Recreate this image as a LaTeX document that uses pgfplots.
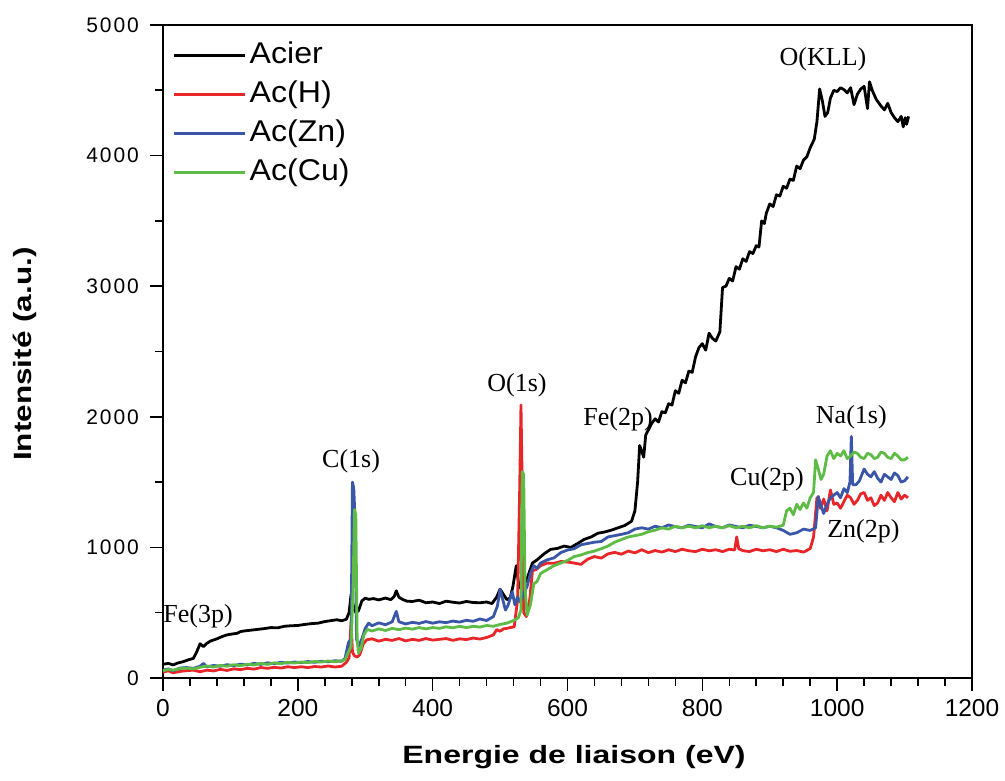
\documentclass[border=0pt]{standalone}
\usepackage{fontspec}
\setmainfont{Liberation Sans}
\newfontfamily\timesf{Liberation Serif}
\usepackage{pgfplots}
\usepackage{pgfplotstable}
\pgfplotsset{compat=1.18}
\definecolor{cred}{HTML}{E8262A}
\definecolor{cblue}{HTML}{3A56A8}
\definecolor{cgreen}{HTML}{5DBB46}

\pgfplotstableread{
x y
0 105
8 112
15 100
22 115
30 125
38 140
45 150
50 200
55 262
60 240
65 265
70 282
80 300
88 318
95 330
100 335
110 342
115 355
120 360
130 366
140 372
150 378
160 386
170 384
180 396
190 400
200 402
210 410
220 416
230 420
240 432
250 440
258 446
265 438
272 450
276 500
279 640
282 560
286 500
290 515
295 590
300 612
305 602
312 608
320 598
330 612
338 600
343 625
346 668
350 618
356 600
362 588
370 586
380 596
390 576
400 582
410 570
420 588
430 580
440 574
450 586
460 578
470 576
480 582
488 570
495 620
500 680
505 640
510 600
515 612
519 700
524 860
528 700
532 680
540 760
548 880
555 905
565 950
575 985
585 992
595 1010
605 1000
615 1030
625 1062
635 1080
645 1108
655 1118
665 1132
675 1150
685 1168
695 1200
700 1280
704 1500
707 1780
710 1740
713 1690
716 1860
720 1900
725 1950
730 1985
735 1960
740 2040
745 2030
750 2100
755 2090
760 2200
765 2180
770 2280
775 2260
780 2350
785 2340
790 2460
795 2530
800 2560
805 2510
810 2640
815 2600
820 2580
826 2650
830 2990
835 3000
840 3060
845 3040
850 3150
855 3130
860 3210
865 3190
870 3265
875 3250
880 3310
884 3300
888 3500
892 3480
895 3560
900 3630
905 3610
910 3700
915 3690
920 3765
925 3750
930 3820
935 3810
940 3920
945 3900
950 3965
955 3990
960 4060
966 4125
970 4260
974 4510
978 4420
982 4300
986 4330
990 4440
995 4500
1000 4490
1005 4520
1010 4505
1015 4480
1020 4520
1025 4390
1030 4470
1035 4510
1040 4530
1045 4360
1048 4565
1052 4500
1058 4430
1065 4380
1070 4350
1075 4400
1080 4330
1085 4290
1090 4260
1095 4300
1098 4220
1101 4290
1103 4240
1106 4300
}\tabA

\pgfplotstableread{
x y
0 45
8 55
15 40
25 50
35 56
45 60
55 48
65 60
75 54
85 66
95 58
105 70
115 64
125 74
135 68
145 80
155 74
165 82
175 76
185 86
195 80
205 86
215 80
225 88
235 84
245 92
255 84
265 90
272 120
276 155
279 430
281 200
284 170
288 160
292 180
297 260
302 292
310 300
320 282
330 296
340 288
350 302
360 284
370 296
380 288
390 302
400 290
410 296
420 302
430 288
440 300
450 294
460 306
470 298
480 310
490 330
495 370
500 358
505 376
510 380
515 386
521 392
526 600
529 1420
531 2090
533 1420
535 500
539 470
544 600
548 820
554 832
560 860
570 880
580 878
590 892
600 888
610 880
620 870
630 910
640 930
650 918
660 950
670 962
680 948
690 972
700 958
710 982
720 960
730 976
740 964
750 982
760 968
770 986
780 974
790 968
800 986
810 974
820 982
830 968
840 986
848 980
851 1080
854 990
860 975
870 968
880 986
890 974
900 982
910 968
920 986
930 970
940 976
950 964
960 990
965 1080
970 1380
975 1300
980 1370
985 1280
990 1440
995 1330
1000 1340
1005 1300
1010 1350
1015 1400
1020 1380
1025 1330
1030 1360
1035 1410
1040 1420
1045 1360
1050 1380
1055 1320
1060 1340
1065 1400
1070 1360
1075 1420
1080 1380
1085 1350
1090 1420
1095 1370
1100 1400
1105 1380
}\tabB

\pgfplotstableread{
x y
0 60
8 70
15 55
25 76
35 80
45 74
55 90
60 112
65 85
75 96
85 90
95 102
105 94
115 106
125 100
135 112
145 104
155 116
165 110
175 120
185 114
195 122
205 118
215 126
225 120
235 128
245 124
255 132
265 128
270 150
275 270
279 300
281 1500
283 1450
285 1200
287 300
290 240
295 300
300 380
305 420
310 400
320 422
330 408
340 430
346 510
350 430
360 414
370 426
380 418
390 432
400 420
410 430
420 424
430 436
440 428
450 442
460 434
470 452
480 440
490 470
496 550
500 680
504 600
508 520
512 560
518 660
522 560
526 620
530 580
535 650
540 700
545 800
550 860
555 840
560 880
570 905
580 920
590 960
600 980
610 990
620 1020
630 1030
640 1040
650 1045
660 1080
670 1090
680 1100
690 1112
700 1140
710 1150
720 1140
730 1162
740 1150
750 1172
760 1158
770 1150
780 1170
790 1160
800 1150
810 1180
820 1160
830 1150
840 1172
850 1160
860 1150
870 1170
880 1160
890 1150
900 1162
910 1150
920 1130
930 1100
940 1112
950 1140
960 1130
968 1150
972 1390
976 1320
980 1260
985 1330
990 1380
995 1400
1000 1420
1005 1380
1010 1450
1015 1420
1019 1500
1021 1850
1023 1480
1028 1480
1033 1510
1040 1600
1045 1560
1050 1540
1055 1580
1060 1530
1065 1500
1070 1560
1075 1540
1080 1520
1085 1570
1090 1550
1095 1500
1100 1510
1105 1540
}\tabC

\pgfplotstableread{
x y
0 55
8 66
15 60
25 72
35 76
45 70
55 82
65 92
75 84
85 96
95 90
105 102
115 94
125 106
135 100
145 112
155 104
165 116
175 110
185 120
195 114
205 122
215 118
225 126
235 122
245 130
255 124
265 132
270 140
275 200
279 240
282 700
284 1290
286 1250
288 300
290 190
294 230
298 330
303 372
310 360
320 376
330 364
340 380
350 370
360 382
370 374
380 386
390 376
400 386
410 380
420 392
430 384
440 396
450 386
460 396
470 390
480 402
490 396
500 410
510 420
520 440
527 460
531 520
532 1200
533 1580
535 1560
537 700
540 480
545 560
550 720
555 740
560 800
570 830
580 860
590 880
600 900
610 930
620 942
630 960
640 972
650 990
660 1010
670 1040
680 1060
690 1080
700 1090
710 1100
720 1120
730 1132
740 1150
750 1140
760 1162
770 1150
780 1162
790 1150
800 1166
810 1150
820 1162
830 1150
840 1166
850 1150
860 1162
870 1150
880 1166
890 1150
900 1162
910 1155
920 1170
925 1280
930 1300
935 1250
940 1330
945 1290
950 1340
955 1300
960 1380
965 1420
968 1670
972 1600
976 1520
980 1560
985 1700
990 1740
995 1680
1000 1720
1005 1700
1010 1740
1015 1680
1020 1700
1025 1730
1030 1720
1035 1690
1040 1680
1045 1720
1050 1710
1055 1680
1060 1690
1065 1730
1070 1720
1075 1690
1080 1680
1085 1720
1090 1700
1095 1670
1100 1670
1105 1690
}\tabD

\begin{document}
\begin{tikzpicture}
\begin{axis}[
  at={(0pt,0pt)}, anchor=south west,
  scale only axis,
  width=809pt, height=653pt,
  xmin=0, xmax=1200, ymin=0, ymax=5000,
  xtick={0,200,...,1200},
  ytick={0,1000,...,5000},
  minor x tick num=4,
  minor y tick num=1,
  tick align=outside,
  xtick pos=left, ytick pos=left,
  major tick length=13pt,
  minor tick length=8pt,
  axis line style={line width=1.6pt},
  every tick/.style={line width=1.6pt, black},
  scaled ticks=false,
  /pgf/number format/assume math mode=true,
  /pgf/number format/1000 sep={},
  xticklabel style={font=\fontsize{24.5}{26}\selectfont, anchor=north, inner sep=0pt, yshift=-8pt},
  yticklabel style={font=\fontsize{21}{24}\selectfont\addfontfeature{LetterSpace=9}, anchor=east, inner sep=0pt, xshift=-11pt},
  xlabel={Energie de liaison (eV)},
  ylabel={Intensité (a.u.)},
  xlabel style={font=\fontsize{25}{28}\selectfont\bfseries\addfontfeature{FakeStretch=1.28}, at={(axis description cs:0.508,-0.121)}, anchor=center},
  ylabel style={font=\fontsize{25}{28}\selectfont\bfseries\addfontfeature{FakeStretch=1.26}, at={(axis description cs:-0.1706,0.496)}, anchor=center},
  clip=false,
  legend cell align=left,
  legend image code/.code={\draw[#1, line width=3.5pt] (0pt,0pt) -- (71pt,0pt);},
  legend style={at={(axis description cs:0,1)}, anchor=north west,
    xshift=6pt, yshift=-15pt, draw=none, fill=none,
    font=\fontsize{30}{32}\selectfont\addfontfeature{FakeStretch=1.07}, row sep=12pt,
    nodes={inner xsep=3pt, inner ysep=0pt, text height=21pt, text depth=6pt}},
  every axis plot/.append style={line width=2.8pt, line join=round},
]
\addplot[black] table[x=x,y=y] {\tabA};
\addlegendentry{Acier}
\addplot[cred] table[x=x,y=y] {\tabB};
\addlegendentry{Ac(H)}
\addplot[cblue] table[x=x,y=y] {\tabC};
\addlegendentry{Ac(Zn)}
\addplot[cgreen] table[x=x,y=y] {\tabD};
\addlegendentry{Ac(Cu)}

\begin{scope}[every node/.style={font=\timesf\fontsize{26}{28}\selectfont, anchor=center, inner sep=0pt}]
\node at (axis cs:52,475) {Fe(3p)};
\node at (axis cs:279,1661) {C(1s)};
\node at (axis cs:525,2239) {O(1s)};
\node at (axis cs:675,1983) {Fe(2p)};
\node at (axis cs:1021,2000) {Na(1s)};
\node at (axis cs:896,1524) {Cu(2p)};
\node at (axis cs:1039,1125) {Zn(2p)};
\node at (axis cs:979,4740) {O(KLL)};
\end{scope}
\end{axis}
\path (-163pt,-103pt) rectangle (842pt,678pt);
\end{tikzpicture}
\end{document}
